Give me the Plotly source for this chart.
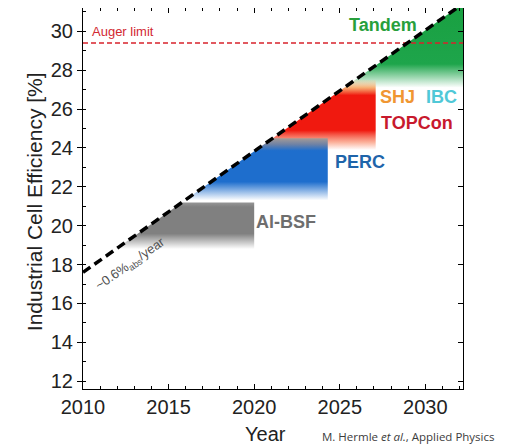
import numpy as np
import plotly.graph_objects as go

# ---------------- data ----------------
trend_years = [2010, 2032]
trend_eff = [17.6, 31.3]
auger_limit = 29.4

techs = ["Al-BSF", "PERC", "TOPCon", "Tandem"]
tech_end_year = [2020.0, 2024.3, 2027.1, 2032.2]
tech_top_eff = [21.2, 24.5, 27.5, 31.3]
tech_bottom_eff = [18.8, 21.3, 23.9, 27.1]

x_range = [2010, 2032.2]
y_range = [11.6, 31.2]
x_ticks = [2010, 2015, 2020, 2025, 2030]
y_ticks = [12, 14, 16, 18, 20, 22, 24, 26, 28, 30]

# ---------------- styles ----------------
FONT = "Liberation Sans, Arial, sans-serif"
scales = {
    "Al-BSF": [[0, "rgba(128,128,128,0)"], [0.33, "rgba(128,128,128,1)"],
               [0.9, "rgba(128,128,128,1)"], [1, "rgba(150,150,150,1)"]],
    "PERC": [[0, "rgba(30,110,205,0)"], [0.3, "rgba(30,110,205,1)"],
             [0.8, "rgba(30,110,205,1)"], [0.9, "rgba(110,130,165,1)"],
             [1, "rgba(165,155,150,1)"]],
    "TOPCon": [[0, "rgba(250,150,120,0)"], [0.11, "rgba(250,150,120,0.75)"],
               [0.28, "rgba(240,25,15,1)"], [0.78, "rgba(240,25,15,1)"],
               [0.89, "rgba(245,160,90,0.85)"], [1, "rgba(245,200,150,0.2)"]],
    "Tandem": [[0, "rgba(30,165,75,0)"], [0.29, "rgba(30,165,75,1)"],
               [1, "rgba(25,160,65,1)"]],
}


def line_x(e):
    return float(np.interp(e, trend_eff, trend_years))


fig = go.Figure()

# draw order: Tandem, TOPCon, PERC, Al-BSF
for i in [3, 2, 1, 0]:
    name = techs[i]
    b, t, end = tech_bottom_eff[i], tech_top_eff[i], tech_end_year[i]
    xs = [line_x(b), end, end, line_x(t), line_x(b)]
    ys = [b, b, t, t, b]
    fig.add_trace(go.Scatter(
        x=xs, y=ys, mode="lines", line=dict(width=0), fill="toself",
        fillgradient=dict(type="vertical", colorscale=scales[name], start=b, stop=t),
        hoverinfo="skip", showlegend=False))

# Auger limit
fig.add_trace(go.Scatter(
    x=x_range, y=[auger_limit, auger_limit], mode="lines",
    line=dict(color="rgb(215,35,45)", width=1.6, dash="5px,3px"),
    hoverinfo="skip", showlegend=False))

# trend line
fig.add_trace(go.Scatter(
    x=trend_years, y=trend_eff, mode="lines",
    line=dict(color="black", width=3.5, dash="9px,5px"),
    hoverinfo="skip", showlegend=False))

# invisible trace for the mirrored tick axes
fig.add_trace(go.Scatter(x=x_range, y=y_range, xaxis="x2", yaxis="y2",
                         mode="markers", marker=dict(opacity=0),
                         hoverinfo="skip", showlegend=False))

ann = []


def label(txt, x, y, color, size=18, bold=True, anchor="left"):
    ann.append(dict(x=x, y=y, xref="x", yref="y", text=f"<b>{txt}</b>" if bold else txt,
                    showarrow=False, xanchor=anchor, yanchor="middle",
                    font=dict(family=FONT, size=size, color=color)))


label("Tandem", 2025.4, 30.35, "rgb(40,160,60)")
label("SHJ", 2027.25, 26.6, "rgb(240,150,50)")
label("IBC", 2029.9, 26.6, "rgb(80,200,215)")
label("TOPCon", 2027.3, 25.3, "rgb(200,25,45)")
label("PERC", 2024.6, 23.3, "rgb(30,100,170)")
label("Al-BSF", 2020.0, 20.2, "rgb(110,110,110)")
label("Auger limit", 2010.4, 30.0, "rgb(210,40,50)", size=13, bold=False)

ann.append(dict(x=2012.75, y=18.0, xref="x", yref="y",
                text="~0.6%<sub>abs</sub>/year", showarrow=False, textangle=-35,
                xanchor="center", yanchor="middle",
                font=dict(family=FONT, size=13, color="rgb(80,80,80)")))

ann.append(dict(x=-0.129, y=0.493, xref="paper", yref="paper",
                text="Industrial Cell Efficiency [%]", showarrow=False, textangle=-90,
                xanchor="center", yanchor="middle",
                font=dict(family=FONT, size=21, color="#222")))
ann.append(dict(x=0.479, y=-0.117, xref="paper", yref="paper", text="Year",
                showarrow=False, xanchor="center", yanchor="middle",
                font=dict(family=FONT, size=20, color="#222")))
ann.append(dict(x=0.855, y=-0.125, xref="paper", yref="paper",
                text="M. Hermle <i>et al.</i>, Applied Physics", showarrow=False,
                xanchor="center", yanchor="middle",
                font=dict(family="Open Sans, sans-serif", size=11.5, color="rgb(60,60,60)")))

axis_common = dict(showgrid=False, zeroline=False)

fig.update_layout(
    width=506, height=439,
    margin=dict(l=75, r=51, t=0, b=58, autoexpand=False),
    paper_bgcolor="white", plot_bgcolor="white",
    showlegend=False,
    annotations=ann,
    xaxis=dict(range=x_range, tickvals=x_ticks, ticks="inside", ticklen=5,
               tickcolor="black", showline=True, linecolor="black", linewidth=1.2,
               mirror=True, minor=dict(dtick=1, ticks="inside", ticklen=3, tickcolor="black"),
               tickfont=dict(family=FONT, size=20, color="#222"), **axis_common),
    yaxis=dict(range=y_range, tickvals=y_ticks, ticks="outside", ticklen=5,
               tickcolor="black", showline=True, linecolor="black", linewidth=1.2,
               mirror=True, minor=dict(dtick=1, ticks="inside", ticklen=3, tickcolor="black"),
               tickfont=dict(family=FONT, size=20, color="#222"), **axis_common),
    xaxis2=dict(range=x_range, overlaying="x", side="top", anchor="y2",
                tickvals=x_ticks, ticks="inside", ticklen=5, tickcolor="black",
                showticklabels=False,
                minor=dict(dtick=1, ticks="inside", ticklen=3, tickcolor="black"),
                **axis_common),
    yaxis2=dict(range=y_range, overlaying="y", side="right", anchor="x2",
                tickvals=y_ticks, ticks="inside", ticklen=5, tickcolor="black",
                showticklabels=False, **axis_common),
)

fig.write_html("out.html")
